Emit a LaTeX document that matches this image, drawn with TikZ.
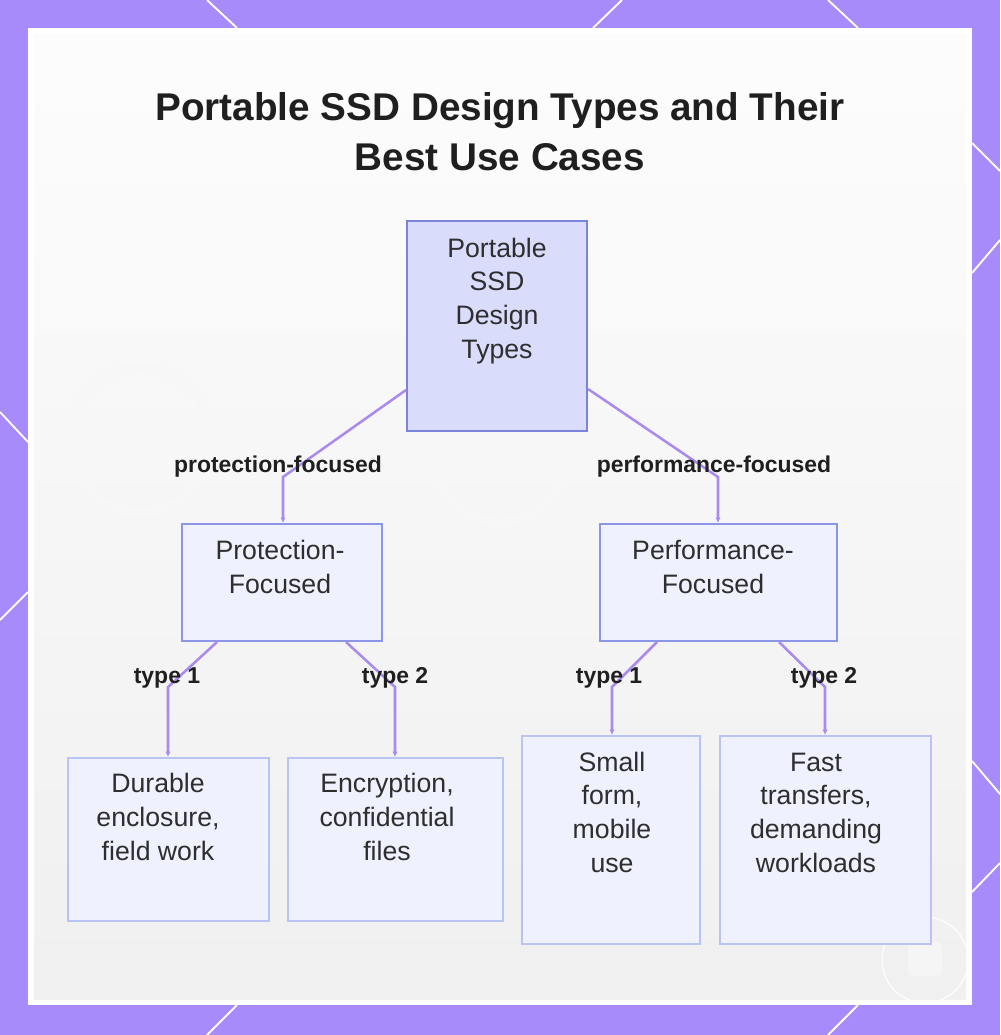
\documentclass[tikz,border=0pt]{standalone}
\usepackage{fontspec}
\setmainfont{Liberation Sans}
\usetikzlibrary{fit,arrows.meta}
\definecolor{framec}{HTML}{A78BFA}
\definecolor{rootfill}{HTML}{D9DCFB}
\definecolor{rootline}{HTML}{7B84DA}
\definecolor{midfill}{HTML}{EFF2FE}
\definecolor{midline}{HTML}{8C96E6}
\definecolor{leaffill}{HTML}{EFF2FE}
\definecolor{leafline}{HTML}{BAC4F2}
\definecolor{edgec}{HTML}{A98BF0}
\definecolor{txtc}{HTML}{2E2E2E}
\definecolor{titlec}{HTML}{1F1F1F}
\tikzset{
  rootbox/.style={draw=rootline, fill=rootfill, line width=1.5pt, inner sep=0pt},
  midbox/.style={draw=midline, fill=midfill, line width=1.5pt, inner sep=0pt},
  leafbox/.style={draw=leafline, fill=leaffill, line width=1.5pt, inner sep=0pt},
  boxtext/.style={anchor=base, align=center, inner sep=0pt, text=txtc,
    font=\fontsize{20}{25.2}\selectfont},
  lbl/.style={anchor=base, inner sep=0pt, text=titlec,
    font=\bfseries\fontsize{17.2}{20}\selectfont},
  edge/.style={draw=edgec, line width=1.9pt, -{Latex[length=4pt,width=4pt]}},
  deco/.style={draw=white, line width=1.4pt},
  ttl/.style={anchor=base, align=center, inner sep=0pt, text=titlec,
    font=\bfseries\fontsize{29}{37.5}\selectfont}
}
\begin{document}
\begin{tikzpicture}[x=0.75pt,y=-0.75pt]
\useasboundingbox (0,0) rectangle (1000,1035);
% frame
\fill[framec] (0,0) rectangle (1000,1035);
\draw[deco] (207,0) -- (237,28);
\draw[deco] (622,0) -- (593,28);
\draw[deco] (828,0) -- (858,28);
\draw[deco] (0,412) -- (28,442);
\draw[deco] (0,620) -- (28,592);
\draw[deco] (972,143) -- (1000,171);
\draw[deco] (972,273) -- (1000,240);
\draw[deco] (972,761) -- (1000,794);
\draw[deco] (972,892) -- (1000,863);
\draw[deco] (237,1005) -- (207,1035);
\draw[deco] (858,1005) -- (828,1035);
% panel
\fill[white] (28,28) rectangle (972,1005);
\shade[top color=black!1, bottom color=black!6] (34,34) rectangle (966,999);
% faint background shapes
\draw[black!3, line width=7pt] (140,440) circle (72);
\draw[black!3, line width=7pt] (500,450) circle (72);
\draw[white, line width=0.8pt] (925,960) circle (43);
\fill[black!4, rounded corners=3pt] (908,942) rectangle (942,976);
% title (anchor base = last line baseline)
\node[ttl] (title) at (500,170) {Portable SSD Design Types and Their\\Best Use Cases};
% boxes
\node[rootbox, fit={(407,221) (587,431)}] (root) {};
\node[midbox, fit={(182,524) (382,641)}] (prot) {};
\node[midbox, fit={(600,524) (837,641)}] (perf) {};
\node[leafbox, fit={(68,758) (269,921)}] (dur) {};
\node[leafbox, fit={(288,758) (503,921)}] (enc) {};
\node[leafbox, fit={(522,736) (700,944)}] (small) {};
\node[leafbox, fit={(720,736) (931,944)}] (fast) {};
% box texts (anchor base = last line baseline)
\node[boxtext] (roott) at (497,358) {Portable\\SSD\\Design\\Types};
\node[boxtext] (prott) at (280,593) {Protection-\\Focused};
\node[boxtext] (perft) at (713,593) {Performance-\\Focused};
\node[boxtext] (durt) at (158,860) {Durable\\enclosure,\\field work};
\node[boxtext] (enct) at (387,860) {Encryption,\\confidential\\files};
\node[boxtext] (smallt) at (612,872) {Small\\form,\\mobile\\use};
\node[boxtext] (fastt) at (816,872) {Fast\\transfers,\\demanding\\workloads};
% connectors
\coordinate (b1) at (283,477);
\coordinate (b2) at (718,477);
\coordinate (b3) at (168,687);
\coordinate (b4) at (395,687);
\coordinate (b5) at (612,687);
\coordinate (b6) at (825,687);
\draw[edge] ([yshift=31.5pt]root.south west) -- (b1) -- (b1 |- prot.north);
\draw[edge] ([yshift=32.25pt]root.south east) -- (b2) -- (b2 |- perf.north);
\draw[edge] ([xshift=27pt]prot.south west) -- (b3) -- (b3 |- dur.north);
\draw[edge] ([xshift=-27.75pt]prot.south east) -- (b4) -- (b4 |- enc.north);
\draw[edge] ([xshift=43.5pt]perf.south west) -- (b5) -- (b5 |- small.north);
\draw[edge] ([xshift=-44.25pt]perf.south east) -- (b6) -- (b6 |- fast.north);
% labels
\node[lbl] (l1) at (278,472) {protection-focused};
\node[lbl] (l2) at (714,472) {performance-focused};
\node[lbl] (l3) at (167,683) {type 1};
\node[lbl] (l4) at (395,683) {type 2};
\node[lbl] (l5) at (609,683) {type 1};
\node[lbl] (l6) at (824,683) {type 2};
\end{tikzpicture}
\end{document}
